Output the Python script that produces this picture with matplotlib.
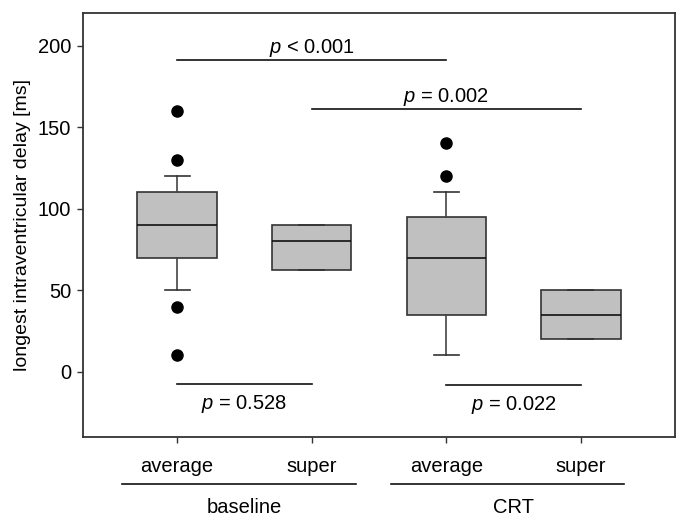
import matplotlib
matplotlib.use("Agg")
import matplotlib.pyplot as plt

plt.rcParams['font.family'] = ['Liberation Sans', 'DejaVu Sans']
plt.rcParams['mathtext.fontset'] = 'custom'
plt.rcParams['mathtext.rm'] = 'Liberation Sans'
plt.rcParams['mathtext.it'] = 'Liberation Sans:italic'

# Box statistics
conditions = ["average", "super", "average", "super"]
groups = ["baseline", "CRT"]
q1 = [70, 62.5, 35, 20]
medians = [90, 80, 70, 35]
q3 = [110, 90, 95, 50]
whisker_low = [50, 62.5, 10, 20]
whisker_high = [120, 90, 110, 50]
outliers = [[10, 40, 130, 160], [], [120, 140], []]

# Pairwise comparisons: (box a, box b, line level, label)
comp_left = [1, 2, 1, 3]
comp_right = [3, 4, 2, 4]
comp_level = [191, 161, -7.5, -8]
comp_text = [r"$p$ < 0.001", r"$p$ = 0.002", r"$p$ = 0.528", r"$p$ = 0.022"]

positions = [1, 2, 3, 4]

stats = []
for i in range(4):
    stats.append(dict(med=medians[i], q1=q1[i], q3=q3[i],
                      whislo=whisker_low[i], whishi=whisker_high[i],
                      fliers=outliers[i]))

fig = plt.figure(figsize=(6.85, 5.18), dpi=100)
ax = fig.add_axes([83 / 685, 1 - 437 / 518, 592 / 685, 424 / 518])

ax.bxp(stats, positions=positions, widths=0.59, patch_artist=True,
       capwidths=0.185,
       boxprops=dict(facecolor='#c0c0c0', edgecolor='#333333', linewidth=1.2),
       medianprops=dict(color='#111111', linewidth=1.2),
       whiskerprops=dict(color='#444444', linewidth=1.2),
       capprops=dict(color='#333333', linewidth=1.2),
       flierprops=dict(marker='o', markerfacecolor='black', markeredgecolor='black',
                       markersize=8))

ax.set_xlim(0.3, 4.7)
ax.set_ylim(-40, 220)
ax.set_yticks([0, 50, 100, 150, 200])
ax.set_xticks(positions)
ax.set_xticklabels(conditions)
ax.tick_params(axis='both', direction='out', length=4.5, width=1, colors='#333333',
               labelcolor='black', labelsize=14.5)
ax.tick_params(axis='x', pad=10)
ax.tick_params(axis='y', pad=4)
for s in ax.spines.values():
    s.set_color('#333333')
    s.set_linewidth(1.3)

ax.set_ylabel("longest intraventricular delay [ms]", fontsize=14, labelpad=5)

# significance lines
for a, b, lev, txt in zip(comp_left, comp_right, comp_level, comp_text):
    ax.plot([a, b], [lev, lev], color='#111111', linewidth=1.2)
    mid = (a + b) / 2
    if lev > 0:
        ax.text(mid, lev + 4.5, txt, ha='center', va='baseline', fontsize=14.5)
    else:
        ax.text(mid, lev - 15.5, txt, ha='center', va='baseline', fontsize=14.5)

# group lines and labels below the axis
trans = ax.get_xaxis_transform()
group_start = [0.59, 2.59]
group_end = [2.33, 4.32]
group_center = [1.5, 3.5]
for g0, g1, gc, name in zip(group_start, group_end, group_center, groups):
    ax.plot([g0, g1], [-0.111, -0.111], color='#111111', linewidth=1.2,
            transform=trans, clip_on=False)
    ax.text(gc, -0.179, name, ha='center', va='baseline', fontsize=14.5,
            transform=trans)

fig.savefig("out.png", dpi=100)
